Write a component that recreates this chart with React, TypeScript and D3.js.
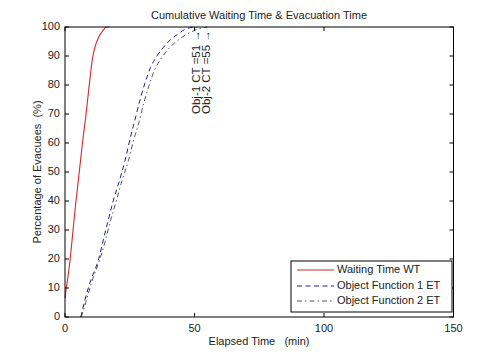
import React from "react";
import * as d3 from "d3";

const wtTime = [0, 0.5, 1, 2, 3, 4, 5, 6, 7, 8, 9, 10, 10.5, 11, 11.5, 12, 13, 14, 15, 16, 17];
const wtPct = [6.5, 10, 13, 20, 29, 38, 46, 54, 62, 69, 77, 85, 88.5, 91, 92.8, 94.3, 96.5, 98, 99.2, 100, 100];

const et1Time = [6.1, 7.7, 10, 12.9, 14.8, 16.7, 18.7, 21, 23.2, 25, 27, 29, 31, 33, 35.5, 38, 40.6, 43.5, 46, 48, 51];
const et1Pct = [0, 5.9, 12.8, 19.7, 26.6, 33.4, 40.3, 47, 54, 61, 68, 75, 81, 86, 90, 93, 95.5, 97.5, 99, 99.7, 100];

const et2Time = [6.3, 8, 10.3, 13.3, 15.5, 17.5, 19.8, 22, 24.5, 26.5, 28.5, 30.5, 32.5, 34.5, 37, 40, 43.7, 47, 50, 52.5, 55];
const et2Pct = [0, 5, 12, 19.5, 26, 33, 40, 47, 54, 61, 67, 74, 80, 85, 89, 92.5, 95.5, 97.5, 98.8, 99.6, 100];

const xTicks = [0, 50, 100, 150];
const yTicks = [0, 10, 20, 30, 40, 50, 60, 70, 80, 90, 100];

const legendLabels = ["Waiting Time WT", "Object Function 1 ET", "Object Function 2 ET"];
const annotations = [
  { t: 51, p: 70, label: "Obj-1 CT =51 \u2192" },
  { t: 55, p: 70, label: "Obj-2 CT =55 \u2192" },
];

const W = 500, H = 356;
const L = 65, R = 453.5, T = 27, B = 317;
const FONT = "'Liberation Sans', Arial, sans-serif";
const TXT = "#222";

export default function App() {
  const x = d3.scaleLinear().domain([0, 150]).range([L, R]);
  const y = d3.scaleLinear().domain([0, 100]).range([B, T]);
  const line = d3
    .line<[number, number]>()
    .x((d) => x(d[0]))
    .y((d) => y(d[1]))
    .curve(d3.curveMonotoneX);
  const zip = (a: number[], b: number[]) => a.map((v, i) => [v, b[i]] as [number, number]);

  const series = [
    { d: zip(wtTime, wtPct), stroke: "#d42a2a", dash: undefined as string | undefined, w: 1.1 },
    { d: zip(et1Time, et1Pct), stroke: "#1c1c9c", dash: "5,3.5", w: 1 },
    { d: zip(et2Time, et2Pct), stroke: "#444", dash: "5,3,1.5,3", w: 0.9 },
  ];

  const lg = { x0: 291, y0: 261, x1: 452, y1: 312 };
  const rowY = [270, 286, 301];

  return (
    <svg
      width={W}
      height={H}
      style={{ position: "absolute", left: 0, top: 0, background: "#fff" }}
      fontFamily={FONT}
    >
      <rect x={0} y={0} width={W} height={H} fill="#fff" />
      <rect x={L} y={T} width={R - L} height={B - T} fill="#fff" />
      {series.map((s, i) => (
        <path
          key={i}
          d={line(s.d) || ""}
          fill="none"
          stroke={s.stroke}
          strokeWidth={s.w}
          strokeDasharray={s.dash}
        />
      ))}
      {annotations.map((a, i) => (
        <text
          key={i}
          transform={`translate(${x(a.t)},${y(a.p)}) rotate(-90)`}
          fontSize={11.5}
          fill={TXT}
          dominantBaseline="middle"
          textAnchor="start"
        >
          {a.label}
        </text>
      ))}
      <rect x={L} y={T} width={R - L} height={B - T} fill="none" stroke="#000" strokeWidth={1} />
      {xTicks.map((t) => (
        <g key={"x" + t}>
          <line x1={x(t)} x2={x(t)} y1={B} y2={B - 4} stroke="#000" />
          <line x1={x(t)} x2={x(t)} y1={T} y2={T + 4} stroke="#000" />
          <text x={x(t)} y={332} fontSize={11} textAnchor="middle" fill={TXT}>
            {t}
          </text>
        </g>
      ))}
      {yTicks.map((t) => (
        <g key={"y" + t}>
          <line x1={L} x2={L + 4} y1={y(t)} y2={y(t)} stroke="#000" />
          <line x1={R} x2={R - 4} y1={y(t)} y2={y(t)} stroke="#000" />
          <text x={60} y={y(t)} fontSize={11} textAnchor="end" dominantBaseline="middle" fill={TXT}>
            {t}
          </text>
        </g>
      ))}
      <rect x={lg.x0} y={lg.y0} width={lg.x1 - lg.x0} height={lg.y1 - lg.y0} fill="#fff" stroke="#000" strokeWidth={1} />
      {legendLabels.map((lab, i) => (
        <g key={lab}>
          <line
            x1={297}
            x2={334}
            y1={rowY[i]}
            y2={rowY[i]}
            stroke={series[i].stroke}
            strokeWidth={series[i].w}
            strokeDasharray={series[i].dash}
          />
          <text x={337} y={rowY[i]} fontSize={11} dominantBaseline="middle" fill={TXT}>
            {lab}
          </text>
        </g>
      ))}
      <text x={259} y={19} fontSize={11} textAnchor="middle" fill={TXT}>
        Cumulative Waiting Time &amp; Evacuation Time
      </text>
      <text x={259} y={345} fontSize={11} textAnchor="middle" fill={TXT} style={{ whiteSpace: "pre" }}>
        {"Elapsed Time   (min)"}
      </text>
      <text
        transform={`translate(41,172) rotate(-90)`}
        fontSize={11}
        textAnchor="middle"
        fill={TXT}
        style={{ whiteSpace: "pre" }}
      >
        {"Percentage of Evacuees  (%)"}
      </text>
    </svg>
  );
}
